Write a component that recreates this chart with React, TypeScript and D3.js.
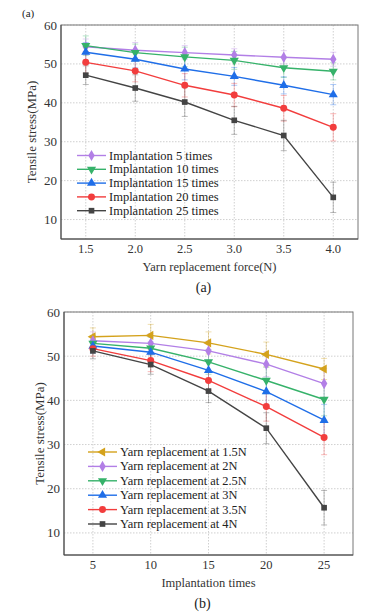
import React from 'react';
import * as d3 from 'd3';

// yarn replacement force (N) and implantation times
const forces = [1.5, 2.0, 2.5, 3.0, 3.5, 4.0];
const times = [5, 10, 15, 20, 25];

// tensile stress (MPa), one array per implantation count, indexed by force
const stress5 = [54.4, 53.5, 52.9, 52.3, 51.7, 51.2];
const stress10 = [54.7, 52.9, 51.8, 50.9, 49.0, 48.1];
const stress15 = [53.0, 51.2, 48.7, 46.8, 44.5, 42.1];
const stress20 = [50.4, 48.2, 44.5, 42.0, 38.6, 33.7];
const stress25 = [47.1, 43.8, 40.2, 35.5, 31.6, 15.7];

// error bar half widths
const err5 = [2.0, 2.0, 1.8, 1.6, 1.7, 1.8];
const err10 = [2.5, 2.2, 2.5, 2.3, 2.5, 2.2];
const err15 = [2.5, 2.2, 2.8, 2.3, 2.2, 2.6];
const err20 = [2.8, 2.8, 3.0, 3.0, 3.3, 3.5];
const err25 = [2.4, 3.4, 3.7, 3.6, 3.9, 3.9];

const yTicks = [10, 20, 30, 40, 50, 60];
const forceTicks = ['1.5', '2.0', '2.5', '3.0', '3.5', '4.0'];
const timeTicks = ['5', '10', '15', '20', '25'];

const timeLabels = ['Implantation 5 times', 'Implantation 10 times', 'Implantation 15 times', 'Implantation 20 times', 'Implantation 25 times'];
const forceLabels = ['Yarn replacement at 1.5N', 'Yarn replacement at 2N', 'Yarn replacement at 2.5N', 'Yarn replacement at 3N', 'Yarn replacement at 3.5N', 'Yarn replacement at 4N'];

const C = {
  gold: '#d4a21c',
  purple: '#b27fe6',
  green: '#36b26a',
  blue: '#1f6ee8',
  red: '#f23d3d',
  black: '#444444',
};

const FONT = '"Liberation Serif", "Times New Roman", "DejaVu Serif", serif';

type Series = { label: string; color: string; shape: string; ys: number[]; es: number[] };

function Marker({ shape, color, x, y }: { shape: string; color: string; x: number; y: number }) {
  const sym = {
    diamond: d3.symbolDiamond,
    down: d3.symbolTriangle,
    up: d3.symbolTriangle,
    left: d3.symbolTriangle,
    circle: d3.symbolCircle,
    square: d3.symbolSquare,
  }[shape];
  const size = shape === 'diamond' ? 36 : shape === 'circle' ? 38 : shape === 'square' ? 32 : 36;
  const rot = shape === 'down' ? 180 : shape === 'left' ? -90 : 0;
  const d = d3.symbol().type(sym).size(size)() as string;
  return <path d={d} fill={color} transform={`translate(${x},${y}) rotate(${rot})`} />;
}

function Panel({ top, height, left, right, xs, xDomain, xTickLabels, series, legend, xTitle, caption, yTitleX }: any) {
  const x = d3.scaleLinear().domain(xDomain).range([left, right]);
  const y = d3.scaleLinear().domain([5, 60]).range([top + height, top]);
  const line = d3.line<number>().x((_, i) => x(xs[i])).y(v => y(v));
  const bottom = top + height;
  return (
    <g style={{ fontFamily: FONT }}>
      {yTicks.map(t => (
        <line key={'gy' + t} x1={left} x2={right} y1={y(t)} y2={y(t)} stroke="#c4c4c4" strokeWidth={0.8} strokeDasharray="1.5,1.5" />
      ))}
      {xs.map((v: number) => (
        <line key={'gx' + v} x1={x(v)} x2={x(v)} y1={top} y2={bottom} stroke="#c4c4c4" strokeWidth={0.8} strokeDasharray="1.5,1.5" />
      ))}
      {series.map((s: Series) => (
        <g key={'e' + s.label} stroke={s.color} strokeOpacity={0.4} strokeWidth={0.9}>
          {s.ys.map((v, i) => (
            <g key={i}>
              <line x1={x(xs[i])} x2={x(xs[i])} y1={y(v - s.es[i])} y2={y(v + s.es[i])} />
              <line x1={x(xs[i]) - 3} x2={x(xs[i]) + 3} y1={y(v - s.es[i])} y2={y(v - s.es[i])} />
              <line x1={x(xs[i]) - 3} x2={x(xs[i]) + 3} y1={y(v + s.es[i])} y2={y(v + s.es[i])} />
            </g>
          ))}
        </g>
      ))}
      {series.map((s: Series) => (
        <g key={'l' + s.label}>
          <path d={line(s.ys) as string} fill="none" stroke={s.color} strokeWidth={1.4} />
          {s.ys.map((v, i) => (
            <Marker key={i} shape={s.shape} color={s.color} x={x(xs[i])} y={y(v)} />
          ))}
        </g>
      ))}
      <rect x={left} y={top} width={right - left} height={height} fill="none" stroke="#777" strokeWidth={1} />
      <line x1={left} x2={left} y1={top} y2={bottom} stroke="#444" strokeWidth={1} />
      <line x1={left} x2={right} y1={bottom} y2={bottom} stroke="#444" strokeWidth={1} />
      {yTicks.map(t => (
        <text key={'ty' + t} x={left - 4} y={y(t) + 4.5} textAnchor="end" fontSize={13} fill="#333">{t}</text>
      ))}
      {xs.map((v: number, i: number) => (
        <text key={'tx' + v} x={x(v)} y={bottom + 14} textAnchor="middle" fontSize={12.5} fill="#333">{xTickLabels[i]}</text>
      ))}
      <text x={yTitleX} y={top + height / 2} textAnchor="middle" fontSize={13} fill="#333"
        transform={`rotate(-90, ${yTitleX}, ${top + height / 2})`}>Tensile stress(MPa)</text>
      <text x={(left + right) / 2} y={bottom + 32} textAnchor="middle" fontSize={12.5} fill="#333">{xTitle}</text>
      <text x={(left + right) / 2 - 6} y={bottom + 53} textAnchor="middle" fontSize={14} fill="#222">{caption}</text>
      {series.map((s: Series, i: number) => {
        const ly = legend.y + i * legend.step;
        return (
          <g key={'lg' + s.label}>
            <line x1={legend.x} x2={legend.x + 29} y1={ly} y2={ly} stroke={s.color} strokeWidth={1.4} />
            <Marker shape={s.shape} color={s.color} x={legend.x + 14.5} y={ly} />
            <text x={legend.x + 32} y={ly + 4} fontSize={legend.size} fill="#222">{s.label}</text>
          </g>
        );
      })}
    </g>
  );
}

export default function App() {
  const byTime = [stress5, stress10, stress15, stress20, stress25];
  const errTime = [err5, err10, err15, err20, err25];
  const topColors = [C.purple, C.green, C.blue, C.red, C.black];
  const topShapes = ['diamond', 'down', 'up', 'circle', 'square'];
  const topSeries: Series[] = byTime.map((ys, i) => ({
    label: timeLabels[i], color: topColors[i], shape: topShapes[i], ys, es: errTime[i],
  }));

  const botColors = [C.gold, C.purple, C.green, C.blue, C.red, C.black];
  const botShapes = ['left', 'diamond', 'down', 'up', 'circle', 'square'];
  const botSeries: Series[] = forces.map((_, j) => ({
    label: forceLabels[j], color: botColors[j], shape: botShapes[j],
    ys: byTime.map(r => r[j]), es: errTime.map(r => r[j]),
  }));

  return (
    <svg width={370} height={612} style={{ position: 'absolute', left: 0, top: 0, background: '#fff', fontFamily: FONT }}>
      <text x={22} y={17} fontSize={11} fill="#222">(a)</text>
      <Panel top={25} height={214} left={61} right={358} xs={forces} xDomain={[1.25, 4.25]} xTickLabels={forceTicks}
        series={topSeries} legend={{ x: 77, y: 155.5, step: 13.8, size: 12.5 }} xTitle="Yarn replacement force(N)" caption="(a)" yTitleX={36} />
      <Panel top={312} height={243} left={64} right={353} xs={times} xDomain={[2.5, 27.5]} xTickLabels={timeTicks}
        series={botSeries} legend={{ x: 88, y: 452, step: 14.4, size: 12.4 }} xTitle="Implantation times" caption="(b)" yTitleX={44} />
    </svg>
  );
}
